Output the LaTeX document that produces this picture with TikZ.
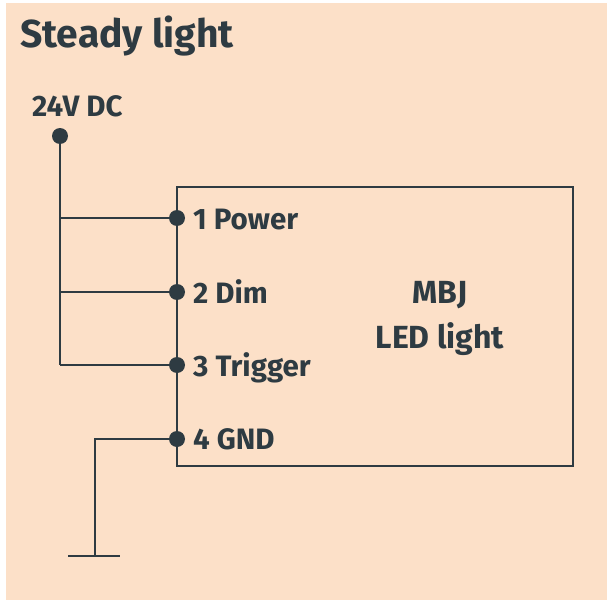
\documentclass[tikz,border=0pt]{standalone}
\usepackage{fontspec}
\setmainfont{Fira Sans}
\definecolor{ink}{HTML}{2E3B42}
\definecolor{peach}{HTML}{FCE0C8}
\begin{document}
\begin{tikzpicture}[x=1pt,y=-1pt,
  wire/.style={ink,line width=2.5pt},
  pin/.style={circle,fill=ink,inner sep=0pt,minimum size=16pt},
  lbl/.style={ink,font=\bfseries\fontsize{29.5}{30}\selectfont,inner sep=0pt,anchor=base west}]
\useasboundingbox (0,0) rectangle (614,605);
\fill[white] (0,0) rectangle (614,605);
\fill[peach] (6,3) rectangle (607,600);
\node[ink,font=\bfseries\fontsize{39}{44}\selectfont,inner sep=0pt,anchor=base west] (title) at (20,47) {Steady light};
\node[lbl] (vdc) at (32,116) {24V DC};
\node[pin] (src) at (60,136) {};
\draw[wire] (177,187) rectangle (573,466);
\coordinate (b1) at (60,218);
\coordinate (b2) at (60,292);
\coordinate (b3) at (60,365);
\node[pin] (p1) at (177,218) {};
\node[pin] (p2) at (177,292) {};
\node[pin] (p3) at (177,365) {};
\node[pin] (p4) at (177,439) {};
\draw[wire] (src) -- (b3);
\draw[wire] (b1) -- (p1);
\draw[wire] (b2) -- (p2);
\draw[wire] (b3) -- (p3);
\coordinate (gc) at (95,439);
\coordinate (g) at (95,556);
\coordinate (gl) at (68,556);
\coordinate (gr) at (120,556);
\draw[wire] (p4) -- (gc) -- (g);
\draw[wire] (gl) -- (gr);
\node[lbl] (l1) at (193,229) {1 Power};
\node[lbl] (l2) at (193,303) {2 Dim};
\node[lbl] (l3) at (193,376) {3 Trigger};
\node[lbl] (l4) at (193,449) {4 GND};
\node[ink,font=\bfseries\fontsize{32}{45}\selectfont,align=center,inner sep=0pt] (mbj) at (440,318) {MBJ\\LED light};
\end{tikzpicture}
\end{document}
